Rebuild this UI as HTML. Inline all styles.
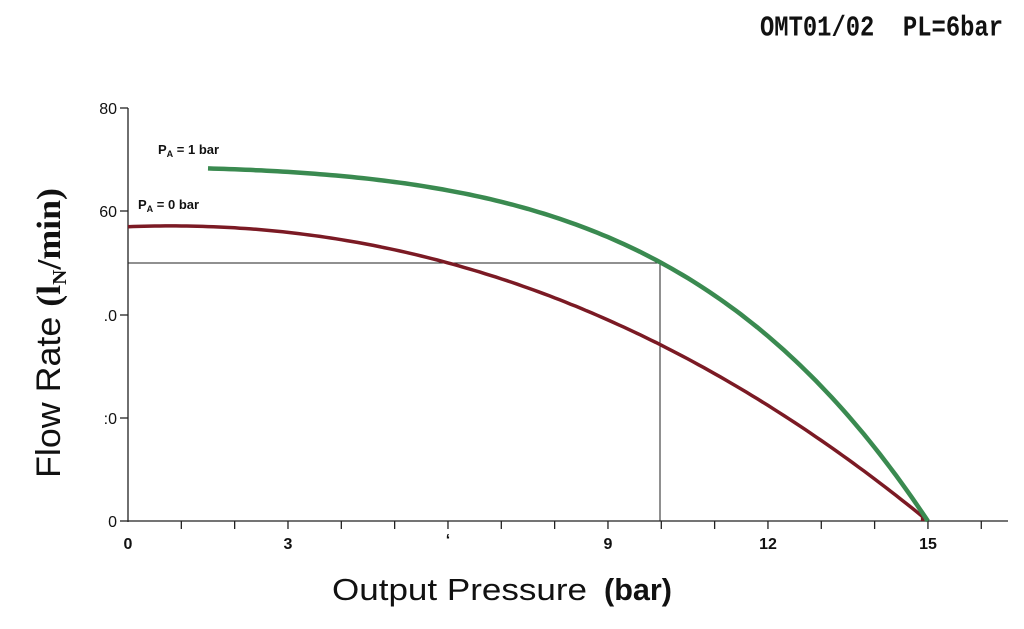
<!DOCTYPE html>
<html><head><meta charset="utf-8"><style>
html,body{margin:0;padding:0;background:#fff;}
body{width:1024px;height:629px;overflow:hidden;position:relative;}
</style></head><body>
<svg width="1024" height="629" viewBox="0 0 1024 629" xmlns="http://www.w3.org/2000/svg" style="position:absolute;left:0;top:0">
<text x="760" y="35" font-family="Liberation Mono, monospace" font-weight="bold" font-size="24" textLength="243" lengthAdjust="spacingAndGlyphs" transform="translate(0,-6) scale(1,1.18)" fill="#111" style="white-space:pre">OMT01/02  PL=6bar</text>
<g stroke="#222" stroke-width="1.3" fill="none">
<line x1="128" y1="108" x2="128" y2="522"/>
<line x1="128" y1="521" x2="1008" y2="521"/>
<line x1="120" y1="108" x2="128" y2="108"/>
<line x1="120" y1="211" x2="128" y2="211"/>
<line x1="120" y1="315" x2="128" y2="315"/>
<line x1="120" y1="418" x2="128" y2="418"/>
<line x1="120" y1="521" x2="128" y2="521"/>
<line x1="128" y1="263" x2="660" y2="263" stroke-width="1"/>
<line x1="660" y1="263" x2="660" y2="521" stroke-width="1"/>
<g id="xt"></g>
</g>
<g font-family="Liberation Sans, sans-serif" font-size="16" fill="#111" text-anchor="end">
<text x="117" y="114">80</text>
<text x="117" y="217">60</text>
<text x="117" y="321">.0</text>
<text x="117" y="424">:0</text>
<text x="117" y="527">0</text>
</g>
<g font-family="Liberation Sans, sans-serif" font-size="16" font-weight="bold" fill="#111" text-anchor="middle">
<text x="128" y="549">0</text>
<text x="288" y="549">3</text>
<text x="448" y="545">‘</text>
<text x="608" y="549">9</text>
<text x="768" y="549">12</text>
<text x="928" y="549">15</text>
</g>
<g font-family="Liberation Sans, sans-serif" font-size="13" font-weight="bold" fill="#111">
<text x="158" y="154">P<tspan font-size="9" dy="3">A</tspan><tspan dy="-3"> = 1 bar</tspan></text>
<text x="138" y="209">P<tspan font-size="9" dy="3">A</tspan><tspan dy="-3"> = 0 bar</tspan></text>
</g>
<path id="red" fill="none" stroke="#7b1a24" stroke-width="3.5"/>
<path id="green" fill="none" stroke="#3a8a50" stroke-width="4.5"/>
<text transform="translate(60,478) rotate(-90)" font-family="Liberation Sans, sans-serif" font-size="34" fill="#111" textLength="290" lengthAdjust="spacingAndGlyphs">Flow Rate <tspan font-family="Liberation Serif, serif" font-weight="bold">(l<tspan font-size="20" dy="6">N</tspan><tspan dy="-6">/min)</tspan></tspan></text>
<text x="332" y="600" font-family="Liberation Sans, sans-serif" font-size="31" fill="#111" textLength="255" lengthAdjust="spacingAndGlyphs">Output Pressure</text>
<text x="604" y="600" font-family="Liberation Sans, sans-serif" font-size="31" font-weight="bold" fill="#111" textLength="68" lengthAdjust="spacingAndGlyphs">(bar)</text>
</svg>
<script>
var X=function(v){return 128+v*53.33;},Y=function(v){return 521-v*5.1625;};
var t='';for(var i=1;i<=16;i++){t+='<line x1="'+X(i)+'" y1="521" x2="'+X(i)+'" y2="529"/>';}
document.getElementById('xt').innerHTML=t;
var r='',g='';
for(var x=0;x<=14.96;x+=0.1){var f=57+0.4*x-0.2485*x*x-0.0021*x*x*x;if(f<0)f=0;r+=(r?'L':'M')+X(x).toFixed(1)+','+Y(f).toFixed(1);}
r+='L'+X(14.9).toFixed(1)+','+Y(0);
for(var x=1.5;x<=15.001;x+=0.1){var f=68.5-0.0893*x*x-0.000957*x*x*x*x;if(f<0)f=0;g+=(g?'L':'M')+X(x).toFixed(1)+','+Y(f).toFixed(1);}
document.getElementById('red').setAttribute('d',r);
document.getElementById('green').setAttribute('d',g);
</script>
</body></html>
